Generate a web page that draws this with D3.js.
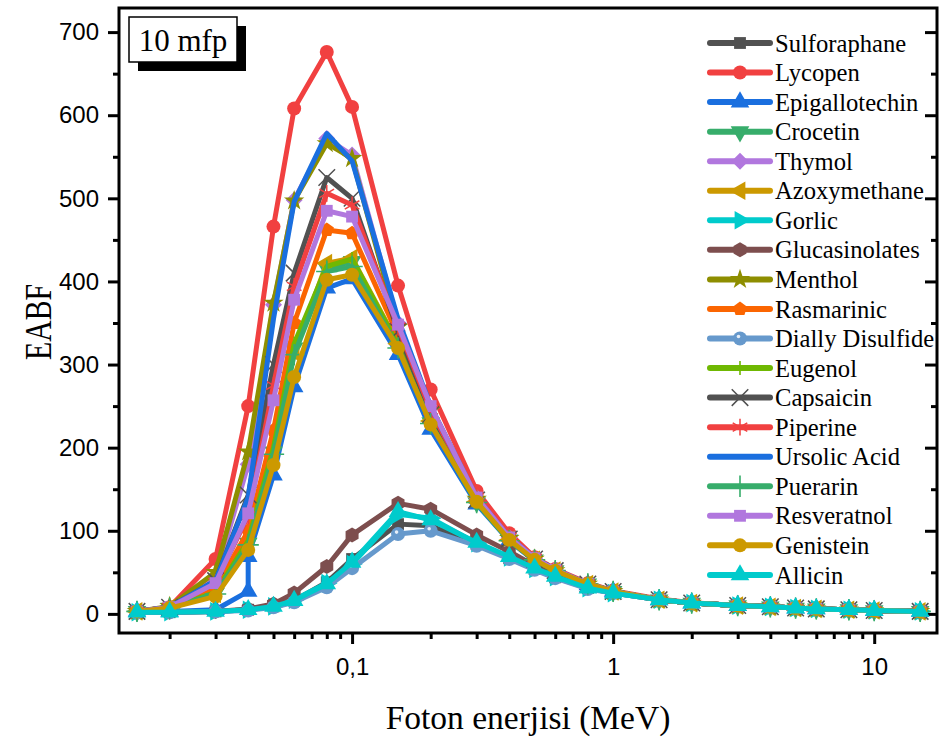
<!DOCTYPE html>
<html>
<head>
<meta charset="utf-8">
<script src="https://cdn.jsdelivr.net/npm/d3@7/dist/d3.min.js"></script>
<style>
    body { margin: 0; background: #fff; }
    text { fill: #000; }
</style>
</head>
<body>
<div id="grafica"></div>
<script>
// energias (MeV)
energias = [0.015, 0.02, 0.03, 0.04, 0.05, 0.06, 0.08, 0.1, 0.15, 0.2, 0.3, 0.4, 0.5, 0.6, 0.8, 1, 1.5, 2, 3, 4, 5, 6, 8, 10, 15]
// Epigallotechin tiene dos puntos en 0.04
energiasEpi = [0.015, 0.02, 0.03, 0.04, 0.04, 0.05, 0.06, 0.08, 0.1, 0.15, 0.2, 0.3, 0.4, 0.5, 0.6, 0.8, 1, 1.5, 2, 3, 4, 5, 6, 8, 10, 15]

sulforaphane = [2, 2, 3, 5, 9, 16, 38, 66, 108, 106, 84, 67, 54, 44, 31, 25, 17, 13, 10, 8.5, 7, 6, 5, 4, 3]
lycopen = [3, 8, 66, 250, 466, 608, 676, 610, 395, 270, 148, 97, 68, 54, 37, 28, 18, 13.5, 10, 8.5, 7, 6, 5, 4, 3]
epigallotechin = [3, 3, 5, 27, 69, 167, 273, 392, 403, 312, 222, 132, 88, 64, 51, 35, 27, 17, 13, 10, 8.5, 7, 6, 5, 4, 3]
crocetin = [3, 7, 25, 85, 195, 320, 416, 424, 322, 230, 134, 89, 65, 52, 36, 27, 17, 13, 10, 8.5, 7, 6, 5, 4, 3]
thymol = [3, 8, 45, 180, 372, 498, 572, 552, 350, 248, 140, 92, 67, 53, 36, 27, 17, 13, 10, 8.5, 7, 6, 5, 4, 3]
azoxymethane = [3, 7, 24, 82, 190, 315, 422, 428, 325, 232, 135, 89, 65, 52, 36, 27, 17, 13, 10, 8.5, 7, 6, 5, 4, 3]
gorlic = [2, 2, 3, 5, 9, 17, 37, 60, 120, 115, 85, 68, 54, 44, 31, 25, 17, 13, 10, 8.5, 7, 6, 5, 4, 3]
glucasinolates = [2, 2, 3, 6, 12, 25, 57, 95, 133, 126, 95, 75, 58, 47, 33, 26, 17, 13, 10, 8.5, 7, 6, 5, 4, 3]
menthol = [3, 9, 50, 195, 374, 497, 566, 548, 345, 245, 138, 91, 66, 52, 36, 27, 17, 13, 10, 8.5, 7, 6, 5, 4, 3]
rasmarinic = [3, 7, 30, 100, 221, 350, 462, 458, 335, 238, 136, 90, 66, 52, 36, 27, 17, 13, 10, 8.5, 7, 6, 5, 4, 3]
diallyDisulfide = [2, 2, 3, 4, 8, 14, 32, 55, 96, 100, 82, 66, 53, 43, 30, 25, 17, 13, 10, 8.5, 7, 6, 5, 4, 3]
eugenol = [3, 7, 26, 88, 200, 325, 418, 427, 323, 231, 134, 89, 65, 52, 36, 27, 17, 13, 10, 8.5, 7, 6, 5, 4, 3]
capsaicin = [3, 8, 40, 143, 300, 410, 525, 500, 340, 240, 137, 90, 66, 52, 36, 27, 17, 13, 10, 8.5, 7, 6, 5, 4, 3]
piperine = [3, 8, 38, 118, 275, 394, 506, 492, 345, 245, 140, 92, 67, 53, 36, 27, 17, 13, 10, 8.5, 7, 6, 5, 4, 3]
ursolicAcid = [3, 8, 40, 140, 355, 496, 578, 545, 355, 250, 140, 92, 67, 53, 36, 27, 17, 13, 10, 8.5, 7, 6, 5, 4, 3]
puerarin = [3, 7, 24, 83, 192, 312, 412, 418, 320, 229, 134, 88, 65, 52, 36, 27, 17, 13, 10, 8.5, 7, 6, 5, 4, 3]
resveratnol = [3, 8, 37, 121, 257, 378, 485, 478, 348, 250, 140, 92, 67, 53, 36, 27, 17, 13, 10, 8.5, 7, 6, 5, 4, 3]
genistein = [3, 7, 21, 77, 179, 285, 402, 408, 320, 228, 135, 89, 65, 52, 36, 27, 17, 13, 10, 8.5, 7, 6, 5, 4, 3]
allicin = [2, 2, 3, 5, 9, 16, 36, 62, 123, 113, 86, 69, 55, 45, 31, 25, 17, 13, 10, 8.5, 7, 6, 5, 4, 3]

// ejes
yTicks = [0, 100, 200, 300, 400, 500, 600, 700]
yMenores = [50, 150, 250, 350, 450, 550, 650]
xTicks = [0.1, 1, 10]
xEtiquetas = ['0,1', '1', '10']
xMenores = [0.02, 0.03, 0.04, 0.05, 0.06, 0.07, 0.08, 0.09, 0.2, 0.3, 0.4, 0.5, 0.6, 0.7, 0.8, 0.9, 2, 3, 4, 5, 6, 7, 8, 9]

series = [
    { nombre: 'Sulforaphane', e: energias, v: sulforaphane, color: '#515151', marca: 'cuadrado' },
    { nombre: 'Lycopen', e: energias, v: lycopen, color: '#F14040', marca: 'circulo' },
    { nombre: 'Epigallotechin', e: energiasEpi, v: epigallotechin, color: '#1A6FDF', marca: 'triangulo' },
    { nombre: 'Crocetin', e: energias, v: crocetin, color: '#37AD6B', marca: 'trianguloAbajo' },
    { nombre: 'Thymol', e: energias, v: thymol, color: '#B177DE', marca: 'diamante' },
    { nombre: 'Azoxymethane', e: energias, v: azoxymethane, color: '#CC9900', marca: 'trianguloIzq' },
    { nombre: 'Gorlic', e: energias, v: gorlic, color: '#00CBCC', marca: 'trianguloDer' },
    { nombre: 'Glucasinolates', e: energias, v: glucasinolates, color: '#7D4E4E', marca: 'hexagono' },
    { nombre: 'Menthol', e: energias, v: menthol, color: '#8E8E00', marca: 'estrella' },
    { nombre: 'Rasmarinic', e: energias, v: rasmarinic, color: '#FB6501', marca: 'pentagono' },
    { nombre: 'Dially Disulfide', e: energias, v: diallyDisulfide, color: '#6699CC', marca: 'esfera' },
    { nombre: 'Eugenol', e: energias, v: eugenol, color: '#6FB802', marca: 'barra' },
    { nombre: 'Capsaicin', e: energias, v: capsaicin, color: '#515151', marca: 'equis' },
    { nombre: 'Piperine', e: energias, v: piperine, color: '#F14040', marca: 'asterisco' },
    { nombre: 'Ursolic Acid', e: energias, v: ursolicAcid, color: '#1A6FDF', marca: 'ninguno' },
    { nombre: 'Puerarin', e: energias, v: puerarin, color: '#37AD6B', marca: 'mas' },
    { nombre: 'Resveratnol', e: energias, v: resveratnol, color: '#B177DE', marca: 'cuadrado' },
    { nombre: 'Genistein', e: energias, v: genistein, color: '#CC9900', marca: 'circulo' },
    { nombre: 'Allicin', e: energias, v: allicin, color: '#00CBCC', marca: 'triangulo' }
]

W = 942, H = 742
izq = 119, der = 937, arriba = 8, abajo = 633

svg = d3.select('#grafica').append('svg')
    .attr('width', W)
    .attr('height', H)

x = d3.scaleLog().domain([0.0128, 17.4]).range([izq, der])
y = d3.scaleLinear().domain([-23, 729]).range([abajo, arriba])

function poligono(n, r, rot) {
    var pts = d3.range(n).map(function (i) {
        var a = rot + i * 2 * Math.PI / n
        return [r * Math.cos(a), r * Math.sin(a)]
    })
    return 'M' + pts.join('L') + 'Z'
}

function dibujarMarca(g, tipo, color) {
    var sym = d3.symbol()
    switch (tipo) {
        case 'cuadrado':
            g.append('path').attr('d', sym.type(d3.symbolSquare).size(140)()).attr('fill', color); break
        case 'circulo':
            g.append('circle').attr('r', 7).attr('fill', color); break
        case 'triangulo':
            g.append('path').attr('d', sym.type(d3.symbolTriangle).size(150)()).attr('fill', color); break
        case 'trianguloAbajo':
            g.append('path').attr('d', sym.type(d3.symbolTriangle).size(150)()).attr('fill', color)
                .attr('transform', 'rotate(180)'); break
        case 'trianguloIzq':
            g.append('path').attr('d', sym.type(d3.symbolTriangle).size(150)()).attr('fill', color)
                .attr('transform', 'rotate(-90)'); break
        case 'trianguloDer':
            g.append('path').attr('d', sym.type(d3.symbolTriangle).size(150)()).attr('fill', color)
                .attr('transform', 'rotate(90)'); break
        case 'diamante':
            g.append('path').attr('d', poligono(4, 8.5, -Math.PI / 2)).attr('fill', color); break
        case 'hexagono':
            g.append('path').attr('d', poligono(6, 7.5, -Math.PI / 2)).attr('fill', color); break
        case 'pentagono':
            g.append('path').attr('d', poligono(5, 7.5, -Math.PI / 2)).attr('fill', color); break
        case 'estrella':
            g.append('path').attr('d', sym.type(d3.symbolStar).size(130)()).attr('fill', color); break
        case 'esfera':
            g.append('circle').attr('r', 7).attr('fill', color)
            g.append('circle').attr('r', 1.8).attr('cx', -1.5).attr('cy', -2).attr('fill', '#e6eef8'); break
        case 'barra':
            g.append('path').attr('d', 'M0,-7V7').attr('stroke', color).attr('stroke-width', 1.6); break
        case 'equis':
            g.append('path').attr('d', sym.type(d3.symbolTimes).size(180)()).attr('fill', 'none')
                .attr('stroke', color).attr('stroke-width', 1.5); break
        case 'asterisco':
            g.append('path').attr('d', sym.type(d3.symbolAsterisk).size(200)()).attr('fill', 'none')
                .attr('stroke', color).attr('stroke-width', 1.5); break
        case 'mas':
            g.append('path').attr('d', sym.type(d3.symbolPlus).size(150)()).attr('fill', 'none')
                .attr('stroke', color).attr('stroke-width', 1.6); break
    }
}

// ticks del eje y
function estiloEje(g) {
    g.select('.domain').remove()
    g.selectAll('.tick line').attr('stroke', '#000').attr('stroke-width', 3)
    g.selectAll('.tick text')
        .style('font-family', '"Liberation Sans", Arial, sans-serif')
        .style('font-size', '24px')
        .attr('fill', '#000')
}

svg.append('g')
    .attr('transform', 'translate(' + izq + ',0)')
    .call(d3.axisLeft(y).tickValues(yTicks).tickSize(11).tickPadding(9).tickFormat(d3.format('d')))
    .call(estiloEje)
svg.append('g')
    .attr('transform', 'translate(' + izq + ',0)')
    .call(d3.axisLeft(y).tickValues(yMenores).tickSize(6).tickFormat(''))
    .call(estiloEje)
// lado derecho, hacia adentro
svg.append('g')
    .attr('transform', 'translate(' + der + ',0)')
    .call(d3.axisLeft(y).tickValues(yTicks).tickSize(12).tickFormat(''))
    .call(estiloEje)
svg.append('g')
    .attr('transform', 'translate(' + der + ',0)')
    .call(d3.axisLeft(y).tickValues(yMenores).tickSize(6).tickFormat(''))
    .call(estiloEje)

svg.append('g')
    .attr('transform', 'translate(0,' + abajo + ')')
    .call(d3.axisBottom(x).tickValues(xTicks).tickSize(11).tickPadding(14)
        .tickFormat(function (d, i) { return xEtiquetas[i] }))
    .call(estiloEje)
svg.append('g')
    .attr('transform', 'translate(0,' + abajo + ')')
    .call(d3.axisBottom(x).tickValues(xMenores).tickSize(6).tickFormat(''))
    .call(estiloEje)

// marco
svg.append('rect')
    .attr('x', izq).attr('y', arriba)
    .attr('width', der - izq).attr('height', abajo - arriba)
    .attr('fill', 'none').attr('stroke', '#000').attr('stroke-width', 3)

// curvas
linea = d3.line()
    .x(function (d) { return x(d.e) })
    .y(function (d) { return y(d.v) })

series.forEach(function (s) {
    var pts = s.v.map(function (v, i) { return { e: s.e[i], v: v } })
    var g = svg.append('g').attr('class', 'serie')
    g.append('path')
        .datum(pts)
        .attr('d', linea)
        .attr('fill', 'none')
        .attr('stroke', s.color)
        .attr('stroke-width', 5)
        .attr('stroke-linejoin', 'round')
    g.selectAll('g.marca')
        .data(pts)
        .enter()
        .append('g')
        .attr('class', 'marca')
        .attr('transform', function (d) { return 'translate(' + x(d.e) + ',' + y(d.v) + ')' })
        .each(function () { dibujarMarca(d3.select(this), s.marca, s.color) })
})

// leyenda
ley = svg.append('g').attr('class', 'leyenda')
series.forEach(function (s, i) {
    var yy = 43 + i * 29.55
    ley.append('line')
        .attr('x1', 710).attr('x2', 770)
        .attr('y1', yy).attr('y2', yy)
        .attr('stroke', s.color).attr('stroke-width', 6)
        .attr('stroke-linecap', 'round')
    var m = ley.append('g').attr('transform', 'translate(740,' + yy + ')')
    dibujarMarca(m, s.marca, s.color)
    ley.append('text')
        .attr('x', 775).attr('y', yy)
        .attr('dy', '0.35em')
        .style('font-family', '"Liberation Serif", "Times New Roman", serif')
        .style('font-size', '24.6px')
        .text(s.nombre)
})

// etiqueta 10 mfp
svg.append('rect').attr('x', 138).attr('y', 26).attr('width', 108).attr('height', 45).attr('fill', '#000')
svg.append('rect').attr('x', 129).attr('y', 17).attr('width', 108).attr('height', 45)
    .attr('fill', '#fff').attr('stroke', '#000').attr('stroke-width', 1.5)
svg.append('text')
    .attr('x', 183).attr('y', 51)
    .attr('text-anchor', 'middle')
    .style('font-family', '"Liberation Serif", "Times New Roman", serif')
    .style('font-size', '31px')
    .text('10 mfp')

// titulos
svg.append('text')
    .attr('x', 528).attr('y', 729)
    .attr('text-anchor', 'middle')
    .style('font-family', '"Liberation Serif", "Times New Roman", serif')
    .style('font-size', '33.5px')
    .text('Foton enerjisi (MeV)')

svg.append('text')
    .attr('transform', 'translate(51,322) rotate(-90)')
    .attr('text-anchor', 'middle')
    .attr('textLength', 76)
    .attr('lengthAdjust', 'spacingAndGlyphs')
    .style('font-family', '"Liberation Serif", "Times New Roman", serif')
    .style('font-size', '38px')
    .text('EABF')
</script>
</body>
</html>
